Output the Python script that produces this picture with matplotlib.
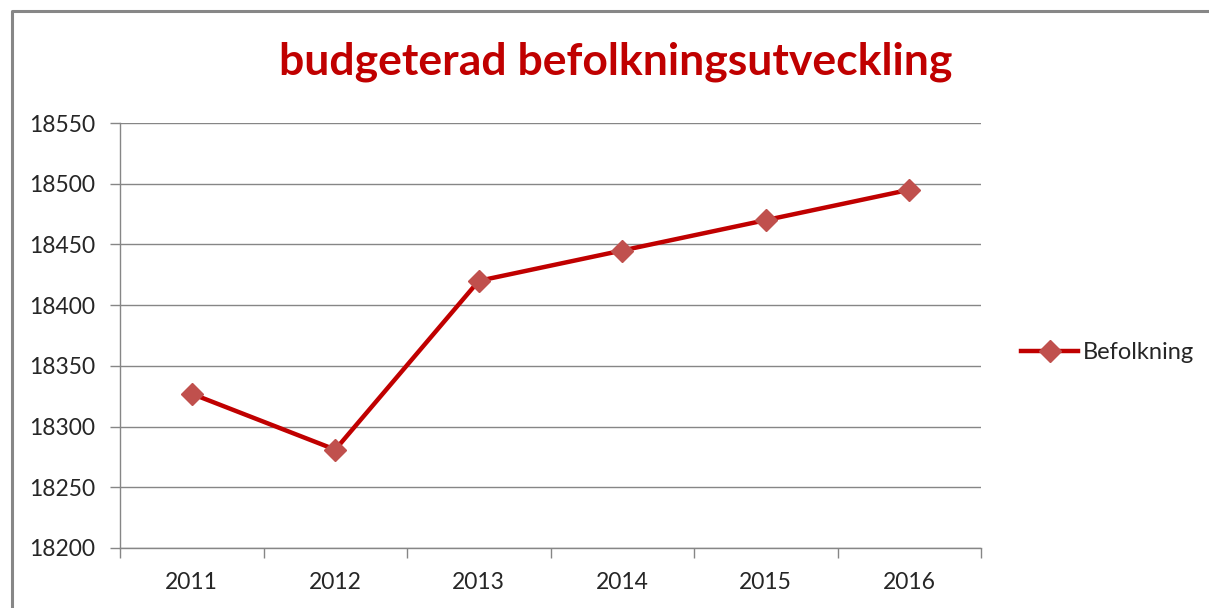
import matplotlib
matplotlib.use("Agg")
import matplotlib.pyplot as plt
from matplotlib.lines import Line2D

years = ["2011", "2012", "2013", "2014", "2015", "2016"]
befolkning = [18327, 18281, 18420, 18445, 18470, 18495]
yticks = [18200, 18250, 18300, 18350, 18400, 18450, 18500, 18550]
title = "budgeterad befolkningsutveckling"
series_name = "Befolkning"

plt.rcParams['font.family'] = ['Lato', 'DejaVu Sans']

W, H = 1209, 608
fig = plt.figure(figsize=(W / 100, H / 100), dpi=100)
ax = fig.add_axes([120 / W, 1 - 548 / H, (981 - 120) / W, (548 - 123) / H])

line_color = "#C00000"
marker_color = "#C0504D"
grid_color = "#868686"
text_color = "#262626"

x = list(range(len(years)))
ax.plot(x, befolkning, color=line_color, lw=3.2, marker="D", markersize=11,
        markerfacecolor=marker_color, markeredgecolor=marker_color, zorder=3)

ax.set_xlim(-0.5, len(years) - 0.5)
ax.set_ylim(yticks[0], yticks[-1])
ax.set_yticks(yticks)
ax.set_yticklabels([str(v) for v in yticks], fontsize=16.5, color=text_color)
ax.set_xticks(x)
ax.set_xticklabels(years, fontsize=16.5, color=text_color)
ax.tick_params(axis="x", length=0, pad=17)
ax.set_xticks([i - 0.5 for i in range(len(years) + 1)], minor=True)
ax.tick_params(axis="x", which="minor", length=7, color=grid_color, width=1)
ax.tick_params(axis="y", length=7, color=grid_color, width=1, pad=11)

ax.yaxis.grid(True, color=grid_color, lw=1)
ax.set_axisbelow(True)
for s in ["top", "right"]:
    ax.spines[s].set_visible(False)
for s in ["left", "bottom"]:
    ax.spines[s].set_color(grid_color)
    ax.spines[s].set_linewidth(1)

fig.text(616 / W, 1 - 62 / H, title, ha="center", va="center", fontsize=32,
         fontweight="bold", color=line_color)

handle = Line2D([], [], color=line_color, lw=3.2, marker="D", markersize=11,
                markerfacecolor=marker_color, markeredgecolor=marker_color)
fig.legend([handle], [series_name], loc="center left",
           bbox_to_anchor=(1012 / W, 1 - 353 / H), frameon=False, fontsize=17,
           handlelength=2.4, handletextpad=0.2, borderaxespad=0, labelcolor=text_color)

# outer chart frame (top and left edges visible)
frame = Line2D([11.5 / W, 11.5 / W, 1.0], [0.0, 1 - 10.5 / H, 1 - 10.5 / H],
               transform=fig.transFigure, color="#878787", lw=2.2)
fig.add_artist(frame)

fig.savefig("out.png", dpi=100, facecolor="white")
